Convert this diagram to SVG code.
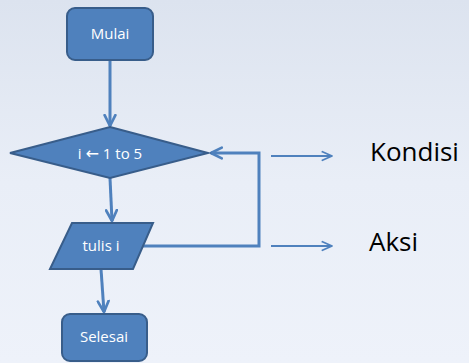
<svg xmlns="http://www.w3.org/2000/svg" width="469" height="363" viewBox="0 0 469 363">
<defs>
<linearGradient id="bg" x1="0" y1="0" x2="0" y2="1">
<stop offset="0" stop-color="#DCE3EF"/>
<stop offset="0.5" stop-color="#E9EEF7"/>
<stop offset="1" stop-color="#EEF2FA"/>
</linearGradient>
<marker id="ah" viewBox="0 0 10 10" refX="9" refY="5" markerWidth="4.5" markerHeight="4.5" orient="auto" markerUnits="strokeWidth">
<path d="M1,1 L9,5 L1,9" fill="none" stroke="#4F81BD" stroke-width="2" stroke-linecap="round" stroke-linejoin="round"/>
</marker>
<marker id="ah2" viewBox="0 0 10 10" refX="9" refY="5" markerWidth="6" markerHeight="6" orient="auto" markerUnits="strokeWidth">
<path d="M1,1.5 L9,5 L1,8.5" fill="none" stroke="#4F81BD" stroke-width="1.5" stroke-linecap="round" stroke-linejoin="round"/>
</marker>
</defs>
<style>
.shape{fill:#4F81BD;stroke:#385D8A;stroke-width:2}
.lbl{font-family:"Open Sans","Liberation Sans",sans-serif;font-size:15px;fill:#FFFFFF;text-anchor:middle}
.arr{font-family:"DejaVu Sans",sans-serif;font-size:16px}
.big{font-family:"Open Sans","Liberation Sans",sans-serif;font-size:26px;fill:#000000}
.conn{fill:none;stroke:#4F81BD;stroke-width:3}
.side{fill:none;stroke:#4F81BD;stroke-width:2}
</style>
<rect x="0" y="0" width="469" height="363" fill="url(#bg)"/>
<g id="connectors">
<line class="conn" x1="110" y1="60" x2="110" y2="126" marker-end="url(#ah)"/>
<line class="conn" x1="110" y1="178" x2="112" y2="221" marker-end="url(#ah)"/>
<line class="conn" x1="101" y1="269" x2="104" y2="312" marker-end="url(#ah)"/>
<polyline class="conn" points="143,246 259,246 259,153 211,153" marker-end="url(#ah)"/>
<line class="side" x1="271" y1="156" x2="332" y2="156" marker-end="url(#ah2)"/>
<line class="side" x1="271" y1="246" x2="332" y2="246" marker-end="url(#ah2)"/>
</g>
<g id="mulai">
<rect class="shape" x="67" y="8" width="86" height="52" rx="8"/>
<text class="lbl" x="110" y="39">Mulai</text>
</g>
<g id="kondisi-loop">
<polygon class="shape" points="110,127 208,153 110,178 10,153"/>
<text class="lbl" x="110" y="159">i <tspan class="arr">←</tspan> 1 to 5</text>
</g>
<g id="tulis">
<polygon class="shape" points="72,223 153,223 133,269 50,269"/>
<text class="lbl" x="101" y="251">tulis i</text>
</g>
<g id="selesai">
<rect class="shape" x="62" y="314" width="85" height="47" rx="8"/>
<text class="lbl" x="104" y="342">Selesai</text>
</g>
<g id="label-kondisi">
<text class="big" x="370" y="161">Kondisi</text>
</g>
<g id="label-aksi">
<text class="big" x="369" y="251">Aksi</text>
</g>
</svg>
